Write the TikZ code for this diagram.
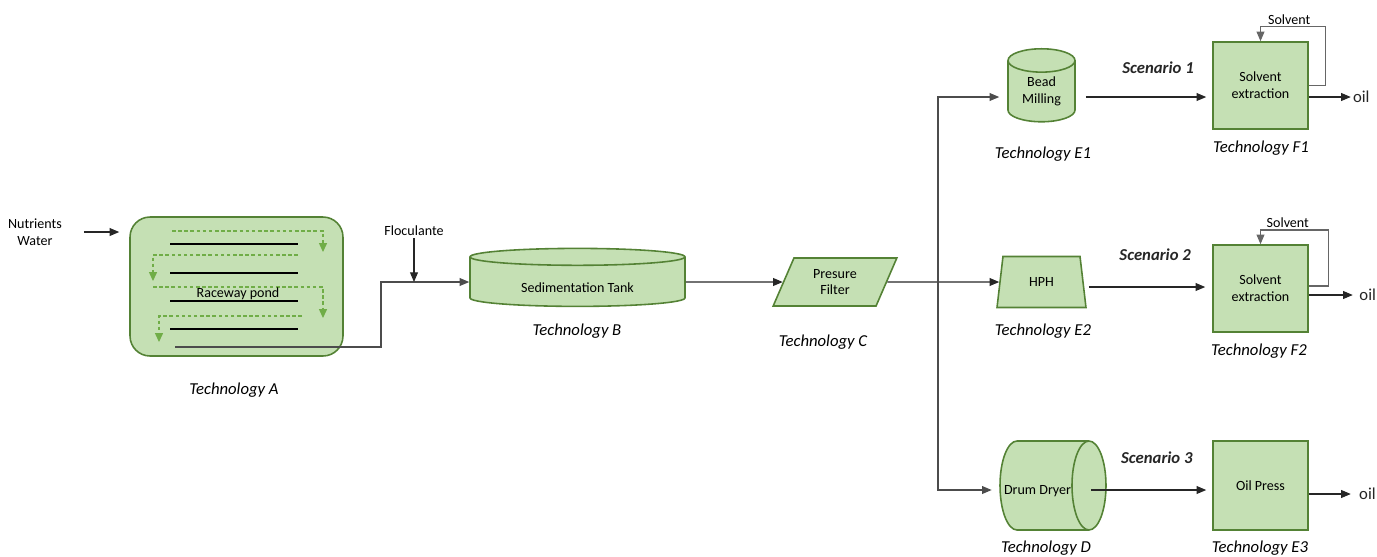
\documentclass[tikz,border=0pt]{standalone}
\usepackage{fontspec}
\setmainfont{Carlito}
\usetikzlibrary{shapes.geometric,arrows.meta}

\definecolor{leaf}{HTML}{C5E0B4}
\definecolor{moss}{HTML}{548235}
\definecolor{grass}{HTML}{70AD47}

\tikzset{
  unit/.style={draw=moss, fill=leaf, line width=0.9pt, align=center, inner sep=0pt,
    font=\fontsize{8}{9.6}\selectfont},
  small/.style={font=\fontsize{8}{9.6}\selectfont, align=center, inner sep=1pt},
  tech/.style={font=\fontsize{9.5}{11}\selectfont\itshape},
  scen/.style={font=\fontsize{9.5}{11}\selectfont\bfseries\itshape},
  product/.style={font=\fontsize{9.5}{11}\selectfont, right},
  flow/.style={-{Triangle[length=5.5pt,width=4.5pt]}, line width=0.6pt, black!85},
  recycle/.style={flow, black!60},
  laneflow/.style={-{Triangle[length=5pt,width=4.5pt]}, grass, line width=0.6pt,
    dash pattern=on 2pt off 1.5pt},
}

\begin{document}
\begin{tikzpicture}[x=0.02cm, y=-0.02cm]
\useasboundingbox (0,0) rectangle (1377,556);

% pond
\node[unit, rounded corners=0.4cm, minimum width=4.26cm, minimum height=2.78cm] (pond) at (236.5,286.5) {};
\foreach \y in {244,273,301,329}
  \draw[line width=0.8pt] (170,\y) -- (298,\y);
\draw[laneflow] (172,231) -- (323,231) -- (323,252);
\draw[laneflow] (298,255) -- (153,255) -- (153,281);
\draw[laneflow] (153,287) -- (323,287) -- (323,318);
\draw[laneflow] (302,316) -- (159,316) -- (159,342);
\node[small] (pondname) at (238,294) {Raceway pond};
\node[small] (feed) at (35,232) {Nutrients\\Water};
\node[tech] (techA) at (234,390) {Technology A};

% tank and filter
\node[unit, cylinder, shape border rotate=90, aspect=0.15, minimum width=4.3cm, minimum height=1.16cm] (tank) at (577.5,282) {\\[0.3em]Sedimentation Tank};
\node[tech] (techB) at (577,331) {Technology B};
\node[small] (floc) at (414,231) {Floculante};
\node[unit, trapezium, trapezium left angle=67, trapezium right angle=113, trapezium stretches,
  minimum width=2.48cm, minimum height=0.96cm] (filter) at (835,282) {Presure\\Filter};
\node[tech] (techC) at (823,342) {Technology C};

% cell disruption
\node[unit, cylinder, shape border rotate=90, aspect=0.6, minimum width=1.34cm, minimum height=1.46cm] (bead) at (1041.5,91.5) {Bead\\Milling};
\node[tech] (techE1) at (1043,154) {Technology E1};
\node[unit, trapezium, trapezium left angle=78, trapezium right angle=78, trapezium stretches,
  minimum width=1.78cm, minimum height=1.02cm] (hph) at (1041.5,282) {HPH};
\node[tech] (techE2) at (1043,331) {Technology E2};
% drum lying on its side
\begin{scope}[shift={(1053,485.5)}, x=1cm, y=1cm, moss, line width=0.9pt]
  \draw[fill=leaf] (-0.72,0.89) -- (0.72,0.89) arc[start angle=90, end angle=-90, x radius=0.34, y radius=0.89]
    -- (-0.72,-0.89) arc[start angle=270, end angle=90, x radius=0.34, y radius=0.89] -- cycle;
  \draw (0.72,0.89) arc[start angle=90, end angle=270, x radius=0.34, y radius=0.89];
\end{scope}
\node[small, inner sep=0pt, minimum width=2.12cm, minimum height=1.78cm] (drum) at (1053,485.5) {\raisebox{-0.18cm}[0pt][0pt]{Drum Dryer}\hspace*{2.2em}};
\node[tech] (techD) at (1046,548) {Technology D};

% extraction
\node[unit, minimum width=1.9cm, minimum height=1.74cm] (f1) at (1260.5,85.5) {Solvent\\extraction};
\node[tech] (techF1) at (1261,148) {Technology F1};
\node[unit, minimum width=1.9cm, minimum height=1.74cm] (f2) at (1260.5,288.5) {Solvent\\extraction};
\node[tech] (techF2) at (1259,351) {Technology F2};
\node[unit, minimum width=1.9cm, minimum height=1.78cm] (press) at (1260.5,485.5) {Oil Press};
\node[tech] (techE3) at (1260,548) {Technology E3};

% streams
\coordinate (outlet) at (175,347);
\coordinate (split) at (938,282);
\draw[flow] ([xshift=0.4cm]feed.east) -- ([xshift=-0.2cm]feed.east -| pond.west);
\draw[flow, black!70] (outlet) -- ++(206,0) |- (tank.west);
\draw[flow] (floc.south) -- (floc.south |- tank.west);
\draw[flow] (tank.east) -- (filter.west);
\draw[flow] (filter.east) -- (hph.west);
\draw[flow, black!70] (split) |- ([xshift=-0.16cm, yshift=-0.11cm]bead.west);
\draw[flow, black!70] (split) |- ([xshift=-0.16cm, yshift=-0.09cm]drum.west);

\draw[flow] ([xshift=0.2cm, yshift=-0.11cm]bead.east) -- node[scen, above=0.35cm, pos=0.6] (sc1) {Scenario 1} ([xshift=-0.12cm, yshift=-0.11cm]bead.east -| f1.west);
\draw[flow] ([xshift=0.1cm, yshift=-0.1cm]hph.east) -- node[scen, above=0.4cm, pos=0.57] (sc2) {Scenario 2} ([xshift=-0.14cm, yshift=-0.1cm]hph.east -| f2.west);
\draw[flow] ([xshift=-0.3cm, yshift=-0.09cm]drum.east) -- node[scen, above=0.4cm, pos=0.57] (sc3) {Scenario 3} ([xshift=-0.12cm, yshift=-0.09cm]drum.east -| press.west);

\draw[recycle] (f1.east) -- ++(17,0) -- ++(0,-59) -| node[small, pos=0.28, above, black] (solv1) {Solvent} (f1.north);
\draw[recycle] ([yshift=0.05cm]f2.east) -- ++(20,0) -- ++(0,-56) -| node[small, pos=0.3, above, black] (solv2) {Solvent} (f2.north);

\draw[flow] ([yshift=-0.23cm]f1.east) -- ++(42,0) node[product, inner sep=1pt] (oil1) {oil};
\draw[flow] ([yshift=-0.13cm]f2.east) -- ++(44,0) node[product, inner sep=3.5pt] (oil2) {oil};
\draw[flow] ([yshift=-0.17cm]press.east) -- ++(42,0) node[product, inner sep=4.5pt] (oil3) {oil};
\end{tikzpicture}
\end{document}
